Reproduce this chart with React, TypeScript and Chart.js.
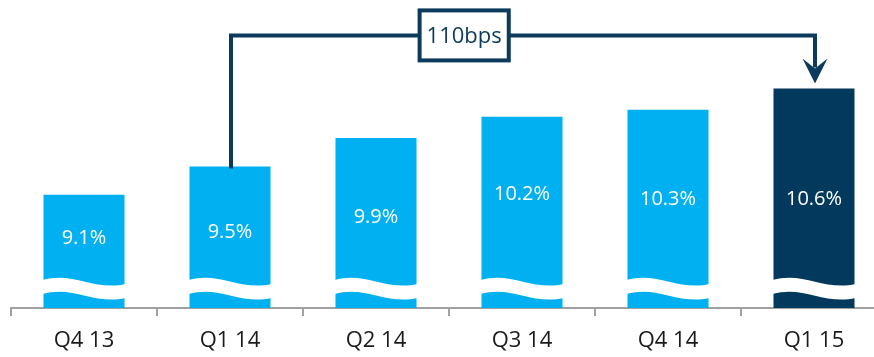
import React, { useEffect, useRef } from "react";
import { Chart, registerables } from "chart.js";

Chart.register(...registerables);

// ---- data ----
const categories = ["Q4 13", "Q1 14", "Q2 14", "Q3 14", "Q4 14", "Q1 15"];
const values = [9.1, 9.5, 9.9, 10.2, 10.3, 10.6];
const valueLabels = ["9.1%", "9.5%", "9.9%", "10.2%", "10.3%", "10.6%"];
// vertical position of each in-bar label, in value units
const labelLevels = [8.49, 8.57, 8.78, 9.1, 9.04, 9.04];
const bracketText = "110bps";
const bracketFrom = 1;
const bracketTo = 5;
const bracketLevel = 11.35;
const bracketLabelAt = 0.401;
const yMin = 7.5;
const yMax = 11.85;

// ---- styles ----
const LIGHT = "#00B0F0";
const DARK = "#03395D";
const LINE = "#0B3A5C";
const AXIS = "#A0A0A0";
const FONT = "'Open Sans', 'Noto Sans', sans-serif";

const decorPlugin = {
  id: "decor",
  afterDatasetsDraw(chart: any) {
    const ctx = chart.ctx;
    const meta = chart.getDatasetMeta(0);
    const bottom = chart.chartArea.bottom;
    const yScale = chart.scales.y;
    ctx.save();
    // broken-axis waves
    meta.data.forEach((bar: any) => {
      const w = bar.width;
      const l = bar.x - w / 2 - 1;
      const r = bar.x + w / 2 + 1;
      const ww = r - l;
      const t0 = bottom - 28, t1 = bottom - 37, t2 = bottom - 17, t3 = bottom - 24;
      const th = 14;
      ctx.beginPath();
      ctx.moveTo(l, t0);
      ctx.bezierCurveTo(l + ww * 0.37, t1, l + ww * 0.62, t2, r, t3);
      ctx.lineTo(r, t3 + th);
      ctx.bezierCurveTo(l + ww * 0.62, t2 + th, l + ww * 0.37, t1 + th, l, t0 + th);
      ctx.closePath();
      ctx.fillStyle = "#ffffff";
      ctx.fill();
    });
    // value labels
    ctx.fillStyle = "#ffffff";
    ctx.font = `20px ${FONT}`;
    ctx.textAlign = "center";
    ctx.textBaseline = "middle";
    meta.data.forEach((bar: any, i: number) => {
      ctx.fillText(valueLabels[i], bar.x, yScale.getPixelForValue(labelLevels[i]));
    });
    // bracket
    const a = meta.data[bracketFrom];
    const b = meta.data[bracketTo];
    const yL = yScale.getPixelForValue(bracketLevel);
    const tipY = b.y - 5;
    ctx.strokeStyle = LINE;
    ctx.fillStyle = LINE;
    ctx.lineWidth = 4;
    ctx.lineJoin = "miter";
    ctx.beginPath();
    ctx.moveTo(a.x + 1, a.y + 2);
    ctx.lineTo(a.x + 1, yL);
    ctx.lineTo(b.x + 1, yL);
    ctx.lineTo(b.x + 1, tipY - 16);
    ctx.stroke();
    ctx.beginPath();
    ctx.moveTo(b.x + 1, tipY);
    ctx.lineTo(b.x + 1 - 12.5, tipY - 25);
    ctx.lineTo(b.x + 1, tipY - 15);
    ctx.lineTo(b.x + 1 + 12.5, tipY - 25);
    ctx.closePath();
    ctx.fill();
    // label box
    ctx.font = `22px ${FONT}`;
    const tw = ctx.measureText(bracketText).width;
    const cx = a.x + (b.x - a.x) * bracketLabelAt;
    const bw = tw + 14;
    const bh = 50;
    ctx.fillStyle = "#ffffff";
    ctx.fillRect(cx - bw / 2, yL - bh / 2, bw, bh);
    ctx.strokeRect(cx - bw / 2, yL - bh / 2, bw, bh);
    ctx.fillStyle = LINE;
    ctx.textAlign = "center";
    ctx.textBaseline = "middle";
    ctx.fillText(bracketText, cx, yL + 1);
    ctx.restore();
  },
};

export default function App() {
  const ref = useRef<HTMLCanvasElement | null>(null);
  useEffect(() => {
    if (!ref.current) return;
    const chart = new Chart(ref.current, {
      type: "bar",
      data: {
        labels: categories,
        datasets: [
          {
            data: values,
            backgroundColor: values.map((_, i) => (i === values.length - 1 ? DARK : LIGHT)),
            barPercentage: 0.555,
            categoryPercentage: 1,
          },
        ],
      },
      options: {
        animation: false,
        responsive: false,
        devicePixelRatio: 1,
        layout: { padding: { left: 11, right: 13, top: 0, bottom: 0 } },
        plugins: { legend: { display: false }, tooltip: { enabled: false } },
        scales: {
          x: {
            offset: true,
            grid: {
              offset: true,
              drawOnChartArea: false,
              drawTicks: true,
              tickLength: 8,
              color: AXIS,
              lineWidth: 2,
            },
            border: { display: true, color: AXIS, width: 2 },
            ticks: {
              color: "#1a1a1a",
              font: { family: FONT, size: 22 },
              padding: 12,
              maxRotation: 0,
              autoSkip: false,
            },
            afterFit: (s: any) => {
              s.height = 49;
            },
          },
          y: { display: false, min: yMin, max: yMax },
        },
      },
      plugins: [decorPlugin],
    });
    return () => chart.destroy();
  }, []);
  return (
    <div
      style={{
        position: "fixed",
        left: 0,
        top: 0,
        width: 874,
        height: 357,
        overflow: "hidden",
        background: "#fff",
      }}
    >
      <canvas ref={ref} width={900} height={357} style={{ display: "block" }} />
    </div>
  );
}
